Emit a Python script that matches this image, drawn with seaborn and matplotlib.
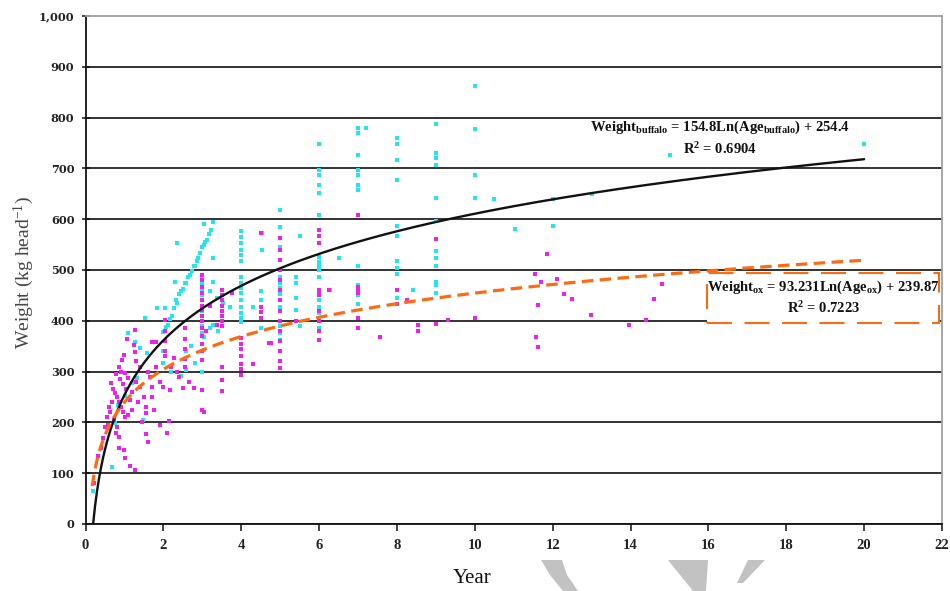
import numpy as np
import pandas as pd
import matplotlib
matplotlib.use("Agg")
import matplotlib.pyplot as plt
from matplotlib.patches import Rectangle, Polygon
from matplotlib.transforms import IdentityTransform
import seaborn as sns

# ---- observations: buffalo (age in years, live weight in kg) ----
buffalo_age = [
    0.20, 0.67, 0.76, 0.84, 1.01, 1.18, 1.31, 1.10, 1.27, 1.40, 1.57, 1.48, 1.52, 1.83, 2.04,
    2.00, 2.06, 2.12, 2.17, 2.22, 2.27, 2.33, 2.36, 2.41, 2.46, 2.50, 2.55, 2.59, 2.63, 2.68,
    2.73, 2.78, 2.81, 2.86, 2.90, 2.95, 2.98, 3.03, 3.08, 3.11, 3.16, 3.22, 3.28, 3.04,
    2.30, 2.36, 2.00, 2.00, 2.57, 2.57, 2.82, 3.04, 3.04, 2.20, 2.45, 2.70, 3.28,
    3.00, 3.00, 3.00, 3.00, 3.00, 3.00, 3.00, 3.00, 3.00, 3.00, 3.00, 3.00,
    3.28, 3.20, 3.37, 3.52, 3.70, 3.20, 3.28, 3.40,
    4.00, 4.00, 4.00, 4.00, 4.00, 4.00, 4.00, 4.00, 4.00, 4.00, 4.00, 4.00, 4.00, 4.00, 4.00,
    4.53, 4.53, 4.50, 4.50, 4.30, 4.50,
    5.00, 5.00, 5.00, 5.00, 5.00, 5.00, 5.00, 5.00, 5.00, 5.00, 5.00, 5.00, 5.00, 5.00,
    5.50, 5.40, 5.40, 5.40, 5.40, 5.50,
    6.00, 6.00, 6.00, 6.00, 6.00, 6.00, 6.00, 6.00, 6.00, 6.00, 6.00, 6.00, 6.00, 6.00,
    6.00, 6.00, 6.00, 6.00, 6.00, 6.00, 6.27, 6.50,
    7.00, 7.00, 7.00, 7.00, 7.00, 7.00, 7.00, 7.00, 7.00, 7.00, 7.00, 7.00, 7.20,
    8.00, 8.00, 8.00, 8.00, 8.00, 8.00, 8.00, 8.00, 8.00, 8.00, 8.40,
    9.00, 9.00, 9.00, 9.00, 9.00, 9.00, 9.00, 9.00, 9.00, 9.00, 9.00, 9.00,
    10.00, 10.00, 10.00, 10.00,
    10.49, 11.04, 12.00, 12.00, 13.00, 15.00, 20.00,
]
buffalo_weight = [
    64, 113, 198, 234, 251, 277, 287, 375, 359, 346, 336, 205, 405, 425, 425,
    378, 388, 392, 404, 410, 425, 441, 436, 452, 458, 463, 474, 474, 486, 490,
    498, 507, 507, 517, 524, 533, 546, 550, 556, 559, 570, 578, 595, 590,
    477, 553, 340, 316, 340, 303, 316, 369, 343, 300, 292, 350, 523,
    487, 475, 460, 450, 440, 430, 420, 410, 400, 390, 376, 300,
    477, 458, 445, 435, 428, 385, 392, 380,
    576, 565, 553, 540, 530, 517, 487, 475, 465, 455, 441, 428, 415, 405, 398,
    572, 540, 458, 441, 428, 385,
    618, 585, 546, 500, 487, 474, 465, 452, 441, 428, 422, 389, 375, 362,
    566, 487, 474, 445, 422, 389,
    749, 697, 687, 667, 651, 608, 579, 566, 553, 526, 515, 507, 500, 487,
    461, 450, 440, 428, 415, 385, 461, 523,
    779, 769, 726, 697, 687, 667, 657, 507, 470, 460, 450, 434, 779,
    759, 748, 717, 677, 587, 566, 518, 503, 493, 444, 461,
    787, 730, 720, 707, 641, 596, 537, 523, 507, 477, 470, 454,
    862, 777, 687, 641,
    640, 580, 587, 640, 650, 726, 748,
]

# ---- observations: oxen (age in years, live weight in kg) ----
ox_age = [
    0.22, 0.33, 0.40, 0.45, 0.50, 0.55, 0.60, 0.64, 0.70, 0.75, 0.80, 0.85, 0.90, 0.95, 1.00,
    0.72, 0.80, 0.85, 0.77, 0.85, 0.98, 1.02, 1.15, 1.28, 0.98, 0.94, 0.85, 0.90,
    1.28, 1.07, 1.71, 1.80, 1.24, 1.28, 1.02, 1.10, 1.30, 1.40, 1.50, 1.54, 1.54, 1.20,
    1.10, 1.54, 1.60, 1.45, 1.35, 1.20, 1.15, 1.05, 0.95, 0.88, 0.78, 0.68, 0.62, 0.58,
    1.60, 1.65, 1.70, 1.90, 1.80, 2.00, 2.04, 2.04, 2.04, 2.04, 2.04, 2.13, 2.18, 2.27,
    2.50, 2.55, 2.55, 2.55, 2.55, 2.55, 2.78, 3.03, 2.20, 2.35, 2.40, 2.65, 1.30, 1.40,
    2.10, 1.90, 1.70, 1.75,
    3.00, 3.00, 3.00, 3.00, 3.00, 3.00, 3.00, 3.00, 3.00, 3.00, 3.00, 3.00, 3.00, 3.00,
    3.00, 3.00,
    3.50, 3.50, 3.50, 3.50, 3.50, 3.50, 3.50, 3.50, 3.50, 3.50, 3.50,
    3.37, 3.75, 3.20, 3.10,
    4.00, 4.00, 4.00, 4.00, 4.00, 4.00, 4.00, 4.30, 4.50, 4.50, 4.50, 4.50, 4.70, 4.75,
    5.00, 5.00, 5.00, 5.00, 5.00, 5.00, 5.00, 5.00, 5.00, 5.00, 5.00, 5.00, 5.00, 5.00,
    5.40,
    6.00, 6.00, 6.00, 6.00, 6.00, 6.00, 6.00, 6.00, 6.00, 6.00, 6.25,
    7.00, 7.00, 7.00, 7.00, 7.00, 7.00, 7.55, 8.25,
    8.00, 8.00, 8.55, 8.55,
    9.00, 9.00, 9.30,
    10.00,
    11.84, 11.54, 11.70, 12.11, 11.62, 12.30, 12.50, 11.56, 11.62, 12.98, 13.95, 14.40,
    14.60, 14.80,
]
ox_weight = [
    80, 133, 150, 170, 190, 211, 230, 277, 265, 258, 250, 240, 230, 220, 210,
    205, 190, 172, 180, 149, 145, 130, 115, 106, 333, 323, 310, 300,
    382, 365, 359, 359, 352, 339, 297, 287, 280, 270, 250, 230, 218, 225,
    215, 178, 162, 200, 240, 260, 245, 265, 275, 285, 295, 240, 220, 195,
    300, 290, 270, 280, 310, 270, 402, 380, 360, 340, 330, 202, 264, 326,
    267, 385, 365, 345, 325, 310, 267, 221, 310, 300, 290, 280, 320, 310,
    180, 195, 250, 225,
    490, 480, 467, 455, 440, 430, 421, 410, 400, 385, 370, 355, 340, 323,
    264, 225,
    461, 450, 440, 430, 420, 410, 400, 389, 310, 284, 261,
    392, 454, 430, 380,
    366, 355, 345, 330, 315, 305, 294, 315, 572, 428, 418, 405, 356, 356,
    563, 540, 520, 500, 480, 460, 440, 420, 400, 380, 360, 340, 320, 307,
    399,
    579, 566, 553, 461, 454, 451, 420, 400, 380, 362, 461,
    608, 467, 461, 454, 405, 385, 369, 440,
    461, 434, 392, 379,
    561, 393, 402,
    406,
    531, 492, 477, 482, 432, 452, 442, 369, 349, 412, 392, 402,
    442, 472,
]

# ---- logarithmic trend lines: weight = a * ln(age) + b ----
buffalo_a, buffalo_b, buffalo_r2 = 154.8, 254.4, 0.6904
ox_a, ox_b, ox_r2 = 93.231, 239.87, 0.7223

x_ticks = list(range(0, 23, 2))
y_ticks = list(range(0, 1001, 100))

CYAN = "#1EE6F2"
MAGENTA = "#F01EF0"
ORANGE = "#FF6A10"

sns.set_style("white")
plt.rcParams["font.family"] = ["Liberation Serif", "DejaVu Serif"]
plt.rcParams["mathtext.fontset"] = "custom"
plt.rcParams["mathtext.rm"] = "Liberation Serif:bold"
plt.rcParams["mathtext.it"] = "Liberation Serif:bold"
plt.rcParams["mathtext.bf"] = "Liberation Serif:bold"

fig = plt.figure(figsize=(9.5, 5.91), dpi=100)
ax = fig.add_axes([0.0901, 0.1134, 0.9015, 0.8595])

buffalo = pd.DataFrame({"age": buffalo_age, "weight": buffalo_weight})
ox = pd.DataFrame({"age": ox_age, "weight": ox_weight})

sns.scatterplot(data=buffalo, x="age", y="weight", ax=ax, marker="s", s=5,
                color=CYAN, linewidth=0, zorder=3)
sns.scatterplot(data=ox, x="age", y="weight", ax=ax, marker="s", s=5.5,
                color=MAGENTA, linewidth=0, zorder=3)

xb = np.linspace(np.exp(-buffalo_b / buffalo_a), 20, 400)
fit_b = pd.DataFrame({"age": xb, "weight": buffalo_a * np.log(xb) + buffalo_b})
xo = np.linspace(0.17, 20, 400)
fit_o = pd.DataFrame({"age": xo, "weight": ox_a * np.log(xo) + ox_b})

sns.lineplot(data=fit_b, x="age", y="weight", ax=ax, color="#111111",
             linewidth=1.7, estimator=None, sort=False, zorder=4)
sns.lineplot(data=fit_o, x="age", y="weight", ax=ax, color=ORANGE,
             linewidth=2.3, estimator=None, sort=False, zorder=4)
ax.lines[-1].set_dashes([3.6, 2.0])

ax.set_xlim(0, 22)
ax.set_ylim(0, 1000)
ax.set_xticks(x_ticks)
ax.set_yticks(y_ticks)
ax.set_xticklabels([str(v) for v in x_ticks])
ax.set_yticklabels([f"{v:,}" for v in y_ticks])

ax.set_axisbelow(True)
ax.yaxis.grid(True, color="#222222", linewidth=1.3)
ax.xaxis.grid(False)
ax.yaxis.get_gridlines()[-1].set_visible(False)

for side in ("left", "bottom"):
    ax.spines[side].set_color("#111111")
    ax.spines[side].set_linewidth(1.3)
for side in ("top", "right"):
    ax.spines[side].set_color("#A0A0A0")
    ax.spines[side].set_linewidth(1.3)

ax.tick_params(axis="y", direction="inout", length=6, width=1.1, color="#111111",
               pad=5, left=True)
ax.tick_params(axis="x", direction="out", length=5, width=1.1, color="#111111",
               pad=6, bottom=True)
for lab in ax.get_yticklabels():
    lab.set_fontfamily("DejaVu Serif")
    lab.set_fontsize(8.2)
    lab.set_fontweight("bold")
    lab.set_color("#222222")
for lab in ax.get_xticklabels():
    lab.set_fontsize(10.5)
    lab.set_fontweight("bold")
    lab.set_color("#222222")

ax.set_xlabel("Year", fontsize=15, color="#111111")
ax.xaxis.set_label_coords(0.451, -0.088)
ax.set_ylabel(r"Weight (kg head$^{\mathregular{-1}}$)", fontsize=14,
              color="#444444")
ax.yaxis.set_label_coords(-0.058, 0.495)

# trend-line equations
ax.text(16.3, 781, r"Weight$_{\mathrm{buffalo}}$ = 154.8Ln(Age$_{\mathrm{buffalo}}$) + 254.4",
        ha="center", va="center", fontsize=10.5, fontweight="bold", color="#111111", zorder=6)
ax.text(16.3, 738, r"R$^{2}$ = 0.6904",
        ha="center", va="center", fontsize=10.5, fontweight="bold", color="#111111", zorder=6)

box = Rectangle((15.97, 396), 5.95, 99, facecolor="white", edgecolor=ORANGE,
                linewidth=1.5, linestyle=(0, (12, 6)), zorder=5)
ax.add_patch(box)
ax.text(18.95, 466, r"Weight$_{\mathrm{ox}}$ = 93.231Ln(Age$_{\mathrm{ox}}$) + 239.87",
        ha="center", va="center", fontsize=10.5, fontweight="bold", color="#111111", zorder=6)
ax.text(18.95, 425, r"R$^{2}$ = 0.7223",
        ha="center", va="center", fontsize=10.5, fontweight="bold", color="#111111", zorder=6)

# faint grey page mark along the lower edge
H = 591
for pts in ([(541, 560), (562, 560), (567, 575), (578, 591), (563, 591), (550, 575)],
            [(668, 560), (708, 560), (706, 591), (693, 591)],
            [(748, 560), (765, 560), (743, 583), (737, 583)]):
    fig.patches.append(Polygon([(x, H - y) for x, y in pts], closed=True,
                               facecolor="#C2C2C2", edgecolor="none",
                               transform=IdentityTransform(), figure=fig))

fig.savefig("out.png", dpi=100, facecolor="white")
